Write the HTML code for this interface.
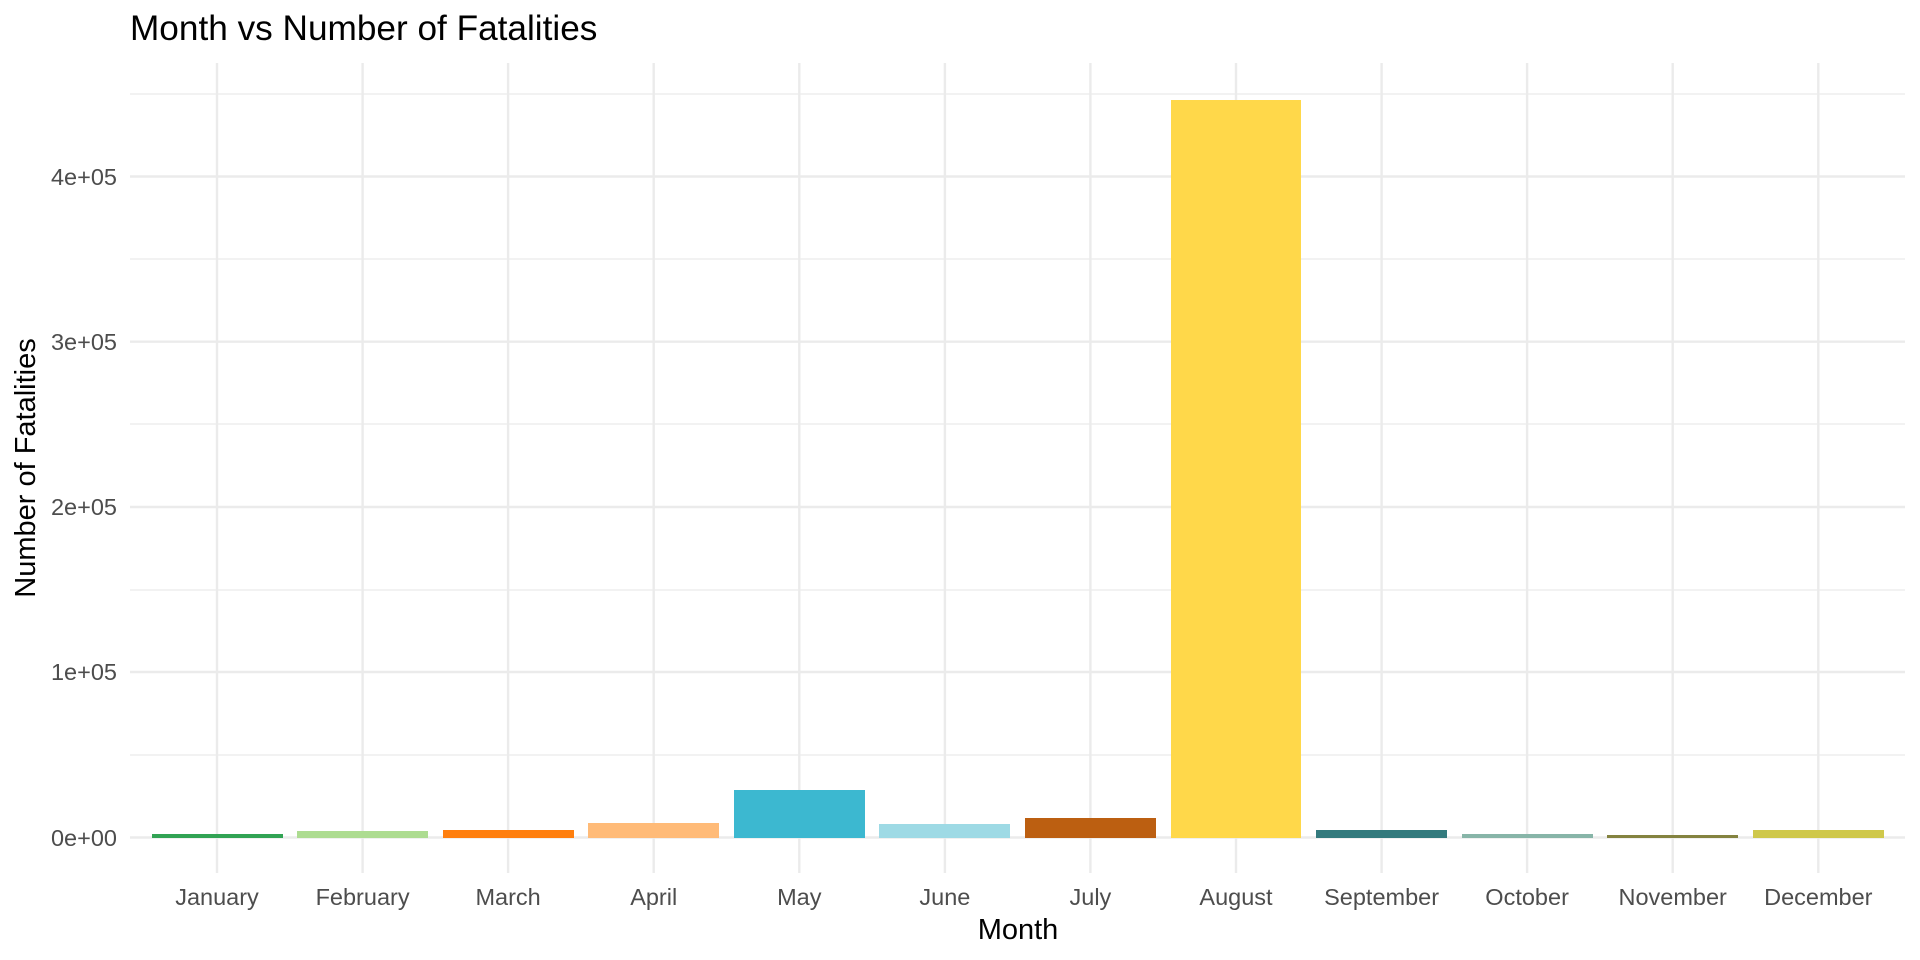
<!DOCTYPE html>
<html><head><meta charset="utf-8"><style>body{margin:0;background:#fff}svg{display:block}text{font-family:"Liberation Sans",sans-serif}</style></head>
<body>
<svg width="1920" height="960" viewBox="0 0 1920 960">
<g stroke="#ebebeb" stroke-width="1.2">
<line x1="130" x2="1905" y1="94" y2="94"/><line x1="130" x2="1905" y1="259" y2="259"/><line x1="130" x2="1905" y1="424" y2="424"/><line x1="130" x2="1905" y1="590" y2="590"/><line x1="130" x2="1905" y1="755" y2="755"/>
</g>
<g stroke="#ebebeb" stroke-width="2.4">
<line x1="130" x2="1905" y1="176.5" y2="176.5"/><line x1="130" x2="1905" y1="341.7" y2="341.7"/><line x1="130" x2="1905" y1="507" y2="507"/><line x1="130" x2="1905" y1="672" y2="672"/><line x1="130" x2="1905" y1="837.5" y2="837.5"/>
<line x1="217" x2="217" y1="63" y2="873"/><line x1="362.6" x2="362.6" y1="63" y2="873"/><line x1="508.1" x2="508.1" y1="63" y2="873"/><line x1="653.7" x2="653.7" y1="63" y2="873"/><line x1="799.3" x2="799.3" y1="63" y2="873"/><line x1="944.9" x2="944.9" y1="63" y2="873"/><line x1="1090.4" x2="1090.4" y1="63" y2="873"/><line x1="1236" x2="1236" y1="63" y2="873"/><line x1="1381.6" x2="1381.6" y1="63" y2="873"/><line x1="1527.1" x2="1527.1" y1="63" y2="873"/><line x1="1672.7" x2="1672.7" y1="63" y2="873"/><line x1="1818.3" x2="1818.3" y1="63" y2="873"/>
</g>
<g>
<rect x="152" y="834" width="131" height="4" fill="#31a354"/>
<rect x="297" y="831" width="131" height="7" fill="#addc91"/>
<rect x="443" y="830" width="131" height="8" fill="#ff7f0e"/>
<rect x="588" y="823" width="131" height="15" fill="#ffbb78"/>
<rect x="734" y="790" width="131" height="48" fill="#3cb8d0"/>
<rect x="879" y="824" width="131" height="14" fill="#9edae5"/>
<rect x="1025" y="818" width="131" height="20" fill="#bc5f11"/>
<rect x="1171" y="100" width="130" height="738" fill="#ffd84a"/>
<rect x="1316" y="830" width="131" height="8" fill="#337a7d"/>
<rect x="1462" y="834" width="131" height="4" fill="#87b5a8"/>
<rect x="1607" y="835" width="131" height="3" fill="#848340"/>
<rect x="1753" y="830" width="131" height="8" fill="#cfc84b"/>
</g>
<g font-size="23.5" fill="#4d4d4d" text-anchor="end">
<text x="117" y="846">0e+00</text><text x="117" y="680">1e+05</text><text x="117" y="515">2e+05</text><text x="117" y="350">3e+05</text><text x="117" y="185">4e+05</text>
</g>
<g font-size="23.5" fill="#4d4d4d" text-anchor="middle">
<text x="217" y="905">January</text><text x="362.6" y="905">February</text><text x="508.1" y="905">March</text><text x="653.7" y="905">April</text><text x="799.3" y="905">May</text><text x="944.9" y="905">June</text><text x="1090.4" y="905">July</text><text x="1236" y="905">August</text><text x="1381.6" y="905">September</text><text x="1527.1" y="905">October</text><text x="1672.7" y="905">November</text><text x="1818.3" y="905">December</text>
</g>
<text x="1018" y="939" font-size="29" text-anchor="middle" fill="#000">Month</text>
<text transform="translate(35,468) rotate(-90)" font-size="29" text-anchor="middle" fill="#000">Number of Fatalities</text>
<text x="130" y="40" font-size="35.2" fill="#000">Month vs Number of Fatalities</text>
</svg>
</body></html>
